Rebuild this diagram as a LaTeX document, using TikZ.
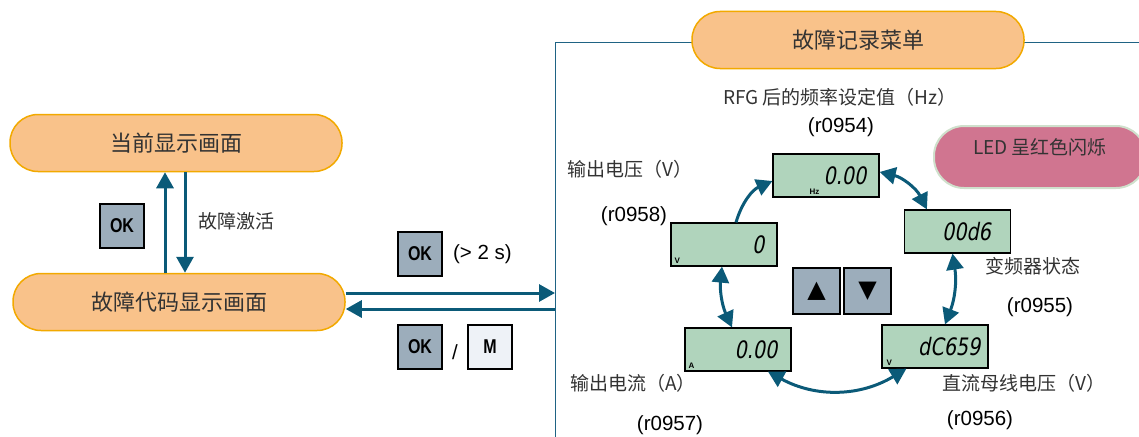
\documentclass[tikz,border=0pt]{standalone}
\usepackage{fontspec}
\setmainfont{Liberation Sans}
\newfontfamily\cjk{Noto Sans CJK SC}
\newfontfamily\lcdfont[FakeSlant=0.18,FakeStretch=0.8]{DejaVu Sans}
\newfontfamily\keyfont[FakeStretch=0.8]{Liberation Sans}
\newfontfamily\symfont{DejaVu Sans}
\usetikzlibrary{arrows.meta,positioning,calc}

\definecolor{pillfill}{HTML}{F9C28A}
\definecolor{pillline}{HTML}{F2A900}
\definecolor{arrowblue}{HTML}{0B5A78}
\definecolor{framecol}{HTML}{1F6384}
\definecolor{keygray}{HTML}{9CADBB}
\definecolor{keylight}{HTML}{EEF2F7}
\definecolor{lcdgreen}{HTML}{B0D4BC}
\definecolor{ledpink}{HTML}{D07590}
\definecolor{ledline}{HTML}{CFE0CC}
\definecolor{textgray}{HTML}{333333}

\tikzset{
  pill/.style={draw=pillline, fill=pillfill, line width=1.5pt, rounded corners=28pt,
               minimum width=332pt, minimum height=57pt, inner sep=0pt,
               font=\cjk\fontsize{22}{26}\selectfont, text=textgray},
  key/.style={draw=black, fill=keygray, line width=1.2pt, minimum size=44pt, inner sep=0pt,
              font=\keyfont\bfseries\fontsize{20}{22}\selectfont},
  arrowkey/.style={key, minimum width=47pt, minimum height=46pt,
              font=\symfont\fontsize{24}{26}\selectfont},
  lcdbox/.style={draw=black, fill=lcdgreen, line width=1.2pt,
                 minimum width=106pt, minimum height=43pt, inner sep=0pt},
  digits/.style={anchor=east, inner sep=0pt, font=\lcdfont\fontsize{24}{26}\selectfont},
  unit/.style={anchor=south west, inner sep=0pt, font=\bfseries\fontsize{8}{9}\selectfont},
  desc/.style={font=\cjk\fontsize{19}{22}\selectfont, text=textgray},
  param/.style={font=\fontsize{20.5}{24}\selectfont},
  arr/.style={draw=arrowblue, line width=3pt, -{Triangle[length=16pt,width=17pt]}},
  dblarr/.style={arr, {Triangle[length=16pt,width=17pt]}-{Triangle[length=16pt,width=17pt]}}
}

\begin{document}
\begin{tikzpicture}[x=1pt,y=-1pt]
\useasboundingbox (0,0) rectangle (1139,436);

% left side: display states
\node[pill] (cur) at (176,143) {当前显示画面};
\node[pill] (fault) at (179,302) {故障代码显示画面};
\node[key] (okA) at (122,226) {OK};
\node[desc] (active) at (236,221) {故障激活};
\coordinate (upx) at ([xshift=-11pt]cur.south);
\coordinate (downx) at ([xshift=9pt]cur.south);
\draw[arr] (upx |- fault.north) -- (upx);
\draw[arr] (downx) -- (downx |- fault.north);

% fault history menu frame
\node[draw=framecol, line width=1.4pt, anchor=north west, inner sep=0pt,
      minimum width=640pt, minimum height=440pt] (menu) at (555,42) {};
\node[pill] (title) at (858,40) {故障记录菜单};

% keys between the two parts
\node[key] (okB) at (420,254) {OK};
\node[param, right=7pt of okB] (hold) {(> 2 s)};
\node[key] (okC) at (420,347) {OK};
\node[param] (slash) at (455,352) {/};
\node[key, fill=keylight] (mkey) at (490,347) {M};
\draw[arr] ([yshift=9pt]fault.east) -- ([yshift=9pt]fault.east -| menu.west);
\draw[arr] ([yshift=-7pt]fault.east -| menu.west) -- ([yshift=-7pt]fault.east);

% LED state
\node[draw=ledline, fill=ledpink, line width=2pt, rounded corners=30pt,
      minimum width=212pt, minimum height=62pt, text depth=21pt,
      font=\cjk\fontsize{19}{22}\selectfont, text=textgray] (led) at (1040,157) {LED 呈红色闪烁};

% LCD displays
\node[lcdbox] (lcdHz) at (826,175.5) {};
\node[digits] at ([xshift=-13pt]lcdHz.east) {0.00};
\node[unit] at ([shift={(37pt,3pt)}]lcdHz.south west) {Hz};

\node[lcdbox] (lcdSt) at (957.5,231.5) {};
\node[digits] at ([xshift=-20pt]lcdSt.east) {00d6};

\node[lcdbox] (lcdV) at (724,244.5) {};
\node[digits] at ([xshift=-13pt]lcdV.east) {0};
\node[unit] at ([shift={(4pt,3pt)}]lcdV.south west) {V};

\node[lcdbox] (lcdA) at (738,349.5) {};
\node[digits] at ([xshift=-14pt]lcdA.east) {0.00};
\node[unit] at ([shift={(4pt,3pt)}]lcdA.south west) {A};

\node[lcdbox] (lcdDC) at (935,346.5) {};
\node[digits] at ([xshift=-8pt]lcdDC.east) {dC659};
\node[unit] at ([shift={(5pt,3pt)}]lcdDC.south west) {V};

% scroll keys
\node[arrowkey] (upkey) at (816.5,291) {▲};
\node[arrowkey] (downkey) at (867.5,291) {▼};

% parameter texts
\node[desc] (lHz) at (840,97) {RFG 后的频率设定值（Hz）};
\node[param] (pHz) at (841,127) {(r0954)};
\node[desc] (lSt) at (1033,266) {变频器状态};
\node[param] (pSt) at (1040,307) {(r0955)};
\node[desc] (lDC) at (1024,383) {直流母线电压（V）};
\node[param] (pDC) at (980,420) {(r0956)};
\node[desc] (lA) at (633,383) {输出电流（A）};
\node[param] (pA) at (670,425) {(r0957)};
\node[desc] (lV) at (630,169) {输出电压（V）};
\node[param] (pV) at (634,216) {(r0958)};

% cycle of displays
\draw[arr] ([xshift=12pt]lcdV.north) to[bend left=25] ([yshift=-5.5pt]lcdHz.west);
\draw[dblarr] ([yshift=3.5pt]lcdHz.east) to[bend left=25] ([xshift=23pt]lcdSt.north west);
\draw[dblarr] ([xshift=-5pt]lcdSt.south) to[bend left=15] ([xshift=10pt]lcdDC.north);
\draw[dblarr] ([xshift=25pt]lcdDC.south west) to[bend left=30] ([xshift=30pt]lcdA.south);
\draw[dblarr] ([xshift=-6pt]lcdA.north) to[bend left=15] ([xshift=-2pt]lcdV.south);
\end{tikzpicture}
\end{document}
